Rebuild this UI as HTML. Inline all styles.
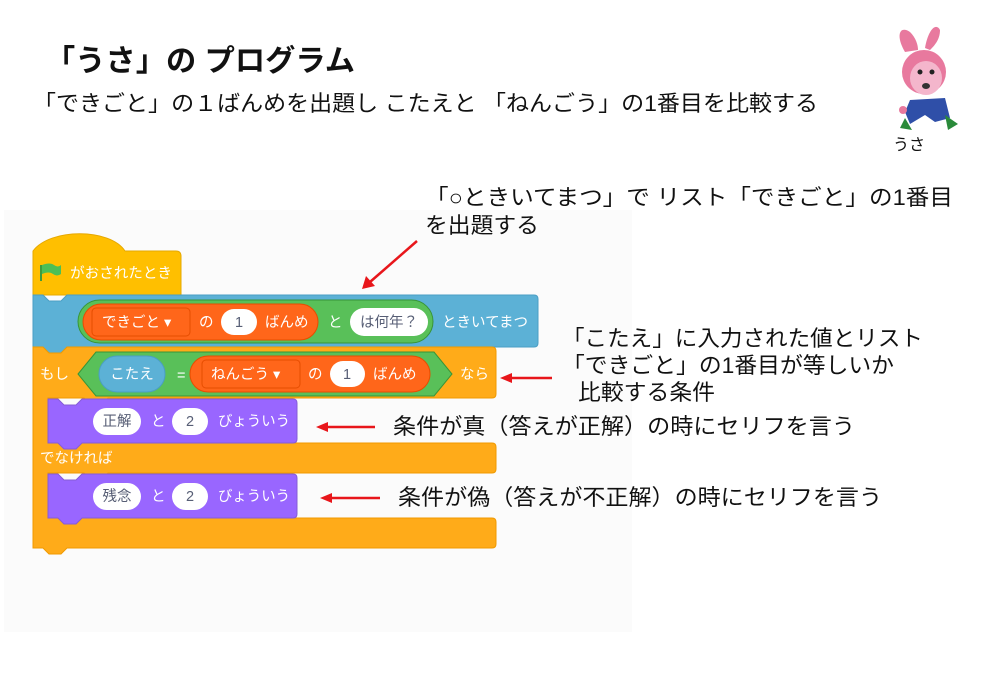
<!DOCTYPE html>
<html><head><meta charset="utf-8"><style>
html,body{margin:0;padding:0;background:#fff;}
svg{display:block;}
text{font-family:"Liberation Sans","Noto Sans CJK JP",sans-serif;}
</style></head><body>
<svg width="1000" height="692" viewBox="0 0 1000 692" xmlns="http://www.w3.org/2000/svg">
<rect x="0" y="0" width="1000" height="692" fill="#fff"/>
<rect x="4" y="210" width="628" height="422" fill="#fbfbfb"/>

<text x="45" y="71" font-size="30" font-weight="bold" fill="#111" textLength="310" lengthAdjust="spacingAndGlyphs">「うさ」の プログラム</text>
<text x="33" y="111" font-size="22" fill="#111" textLength="785" lengthAdjust="spacingAndGlyphs">「できごと」の１ばんめを出題し こたえと 「ねんごう」の1番目を比較する</text>

<!-- rabbit -->
<g>
<path d="M905 52 C895 35 900 25 910 32 C916 38 918 45 918 50 Z" fill="#e8799e"/>
<path d="M925 48 C928 30 936 22 940 30 C940 40 934 46 930 50 Z" fill="#e8799e"/>
<circle cx="924" cy="72" r="22" fill="#e8799e"/>
<ellipse cx="926" cy="78" rx="16" ry="17" fill="#f4b6cc"/>
<circle cx="920" cy="72" r="2.5" fill="#222"/><circle cx="932" cy="72" r="2.5" fill="#222"/>
<ellipse cx="926" cy="86" rx="4" ry="3" fill="#333"/>
<path d="M910 100 L945 98 L950 118 L935 122 L925 115 L910 124 L905 112 Z" fill="#2f4fa8"/>
<path d="M905 118 L900 128 L912 130 Z" fill="#2a8a3a"/>
<path d="M945 115 L958 124 L948 130 Z" fill="#2a8a3a"/>
<circle cx="903" cy="110" r="4" fill="#e8799e"/>
</g>
<text x="893" y="150" font-size="16" fill="#111">うさ</text>

<g font-size="14.5">
<!-- hat block -->
<path d="M33 251 C50 228 110 228 125 251 L176 251 Q181 251 181 256 L181 295 L33 295 Z" fill="#ffbf00" stroke="#e6a800" stroke-width="1"/>
<path d="M41 265 L41 281" stroke="#3d9c3d" stroke-width="2"/>
<path d="M42 265 Q50 262 54 265 Q58 268 61 265 L61 274 Q57 277 53 274 Q49 271 42 274 Z" fill="#4cbf56"/>
<text x="70" y="278" fill="#fff" textLength="102" lengthAdjust="spacingAndGlyphs">がおされたとき</text>

<!-- blue ask block -->
<path d="M33 295 L43 295 L49 301 L61 301 L67 295 L534 295 Q538 295 538 299 L538 343 Q538 347 534 347 L67 347 L61 353 L49 353 L43 347 L33 347 Z" fill="#5cb1d6" stroke="#4a9ec4" stroke-width="1"/>
<rect x="78" y="300" width="355" height="43" rx="21.5" fill="#59c059" stroke="#389438"/>
<rect x="83" y="304" width="235" height="36" rx="18" fill="#ff661a" stroke="#e64d00"/>
<rect x="92" y="308" width="98" height="28" rx="4" fill="#ff661a" stroke="#e64d00"/>
<text x="102" y="327" fill="#fff">できごと ▾</text>
<text x="199" y="327" fill="#fff">の</text>
<rect x="221" y="309" width="36" height="26" rx="13" fill="#fff"/>
<text x="239" y="327" fill="#575e75" text-anchor="middle">1</text>
<text x="265" y="327" fill="#fff">ばんめ</text>
<text x="328" y="327" fill="#fff">と</text>
<rect x="350" y="308" width="78" height="28" rx="14" fill="#fff"/>
<text x="389" y="327" fill="#575e75" text-anchor="middle">は何年？</text>
<text x="442" y="327" fill="#fff" textLength="86" lengthAdjust="spacingAndGlyphs">ときいてまつ</text>

<!-- if-else block -->
<path d="M33 347 L43 347 L49 353 L61 353 L67 347 L492 347 Q496 347 496 351 L496 394 Q496 398 492 398 L108 398 L102 404 L90 404 L84 398 L48 398 L48 443 L492 443 Q496 443 496 447 L496 469 Q496 473 492 473 L108 473 L102 479 L90 479 L84 473 L48 473 L48 518 L492 518 Q496 518 496 522 L496 544 Q496 548 492 548 L67 548 L61 554 L49 554 L43 548 L33 548 Z" fill="#ffab19" stroke="#f09a00" stroke-width="1"/>
<text x="40" y="379" fill="#fff">もし</text>
<path d="M96 352 L434 352 L452 374 L434 396 L96 396 L78 374 Z" fill="#59c059" stroke="#389438"/>
<rect x="99" y="356" width="66" height="36" rx="18" fill="#5cb1d6" stroke="#4a9ec4"/>
<text x="132" y="379" fill="#fff" text-anchor="middle">こたえ</text>
<text x="177" y="380" fill="#fff">=</text>
<rect x="190" y="356" width="240" height="36" rx="18" fill="#ff661a" stroke="#e64d00"/>
<rect x="202" y="360" width="98" height="28" rx="4" fill="#ff661a" stroke="#e64d00"/>
<text x="211" y="379" fill="#fff">ねんごう ▾</text>
<text x="308" y="379" fill="#fff">の</text>
<rect x="330" y="361" width="35" height="26" rx="13" fill="#fff"/>
<text x="347" y="379" fill="#575e75" text-anchor="middle">1</text>
<text x="373" y="379" fill="#fff">ばんめ</text>
<text x="460" y="379" fill="#fff">なら</text>
<text x="40" y="463" fill="#fff">でなければ</text>

<!-- purple say blocks -->
<path d="M48 399 L58 399 L64 405 L76 405 L82 399 L293 399 Q297 399 297 403 L297 439 Q297 443 293 443 L82 443 L76 449 L64 449 L58 443 L48 443 Z" fill="#9966ff" stroke="#855cd6"/>
<rect x="93" y="408" width="48" height="27" rx="13.5" fill="#fff"/>
<text x="117" y="426" fill="#575e75" text-anchor="middle">正解</text>
<text x="151" y="426" fill="#fff">と</text>
<rect x="172" y="408" width="36" height="27" rx="13.5" fill="#fff"/>
<text x="190" y="426" fill="#575e75" text-anchor="middle">2</text>
<text x="218" y="426" fill="#fff" textLength="72" lengthAdjust="spacingAndGlyphs">びょういう</text>

<path d="M48 474 L58 474 L64 480 L76 480 L82 474 L293 474 Q297 474 297 478 L297 514 Q297 518 293 518 L82 518 L76 524 L64 524 L58 518 L48 518 Z" fill="#9966ff" stroke="#855cd6"/>
<rect x="93" y="483" width="48" height="27" rx="13.5" fill="#fff"/>
<text x="117" y="501" fill="#575e75" text-anchor="middle">残念</text>
<text x="151" y="501" fill="#fff">と</text>
<rect x="172" y="483" width="36" height="27" rx="13.5" fill="#fff"/>
<text x="190" y="501" fill="#575e75" text-anchor="middle">2</text>
<text x="218" y="501" fill="#fff" textLength="72" lengthAdjust="spacingAndGlyphs">びょういう</text>
</g>

<!-- annotations -->
<g font-size="22" fill="#111">
<text x="425" y="205" textLength="528" lengthAdjust="spacingAndGlyphs">「○ときいてまつ」で リスト「できごと」の1番目</text>
<text x="425" y="233" textLength="114" lengthAdjust="spacingAndGlyphs">を出題する</text>
<text x="562" y="346" textLength="361" lengthAdjust="spacingAndGlyphs">「こたえ」に入力された値とリスト</text>
<text x="562" y="373" textLength="332" lengthAdjust="spacingAndGlyphs">「できごと」の1番目が等しいか</text>
<text x="578" y="400" textLength="137" lengthAdjust="spacingAndGlyphs">比較する条件</text>
<text x="393" y="434" textLength="462" lengthAdjust="spacingAndGlyphs">条件が真（答えが正解）の時にセリフを言う</text>
<text x="398" y="505" textLength="484" lengthAdjust="spacingAndGlyphs">条件が偽（答えが不正解）の時にセリフを言う</text>
</g>
<g stroke="#e8161b" stroke-width="2.5" fill="#e8161b">
<line x1="417" y1="241" x2="370" y2="282"/>
<path d="M362 289 L366 276 L375 286 Z" stroke="none"/>
<line x1="552" y1="378" x2="510" y2="378"/>
<path d="M500 378 L512 373 L512 383 Z" stroke="none"/>
<line x1="375" y1="427" x2="326" y2="427"/>
<path d="M316 427 L328 422 L328 432 Z" stroke="none"/>
<line x1="380" y1="498" x2="330" y2="498"/>
<path d="M320 498 L332 493 L332 503 Z" stroke="none"/>
</g>
</svg>
</body></html>
